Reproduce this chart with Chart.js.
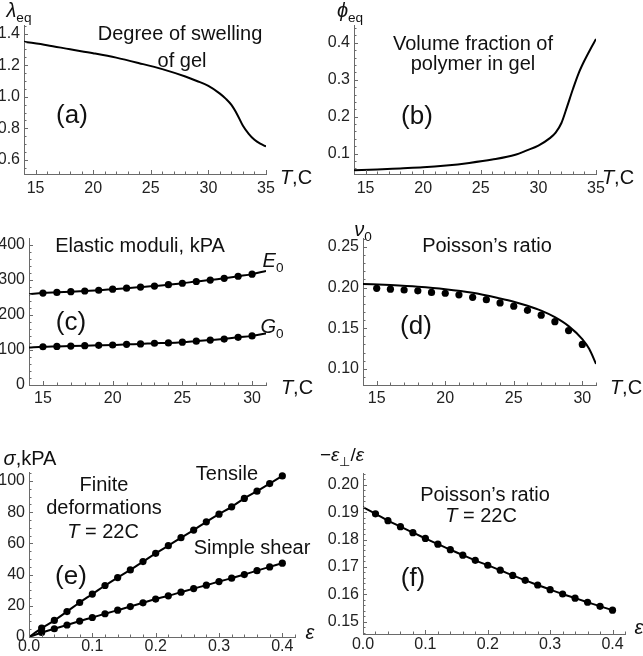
<!DOCTYPE html>
<html>
<head>
<meta charset="utf-8">
<script src="https://cdn.jsdelivr.net/npm/chart.js@4.4.1/dist/chart.umd.min.js"></script>
<style>
  body { margin: 0; background: #fff; }
  #fig { position: relative; width: 643px; height: 656px; overflow: hidden;
         font-family: "Liberation Sans", Arial, sans-serif; color: #111; }
  .panel { position: absolute; }
  .lbl { position: absolute; transform: translate(-50%, -50%); white-space: nowrap; line-height: 1; }
  .lbl sub { font-size: 0.68em; vertical-align: -0.35em; font-style: normal; }
</style>
</head>
<body>
<div id="fig"></div>
<script>
// ---- (a), (b): swelling and polymer fraction vs temperature ----
const tempA = [14, 16, 18, 20, 22, 24, 26, 28, 29, 30, 31, 31.5, 32, 32.5, 33, 33.5, 34, 34.5, 35];
const lambdaEq = [1.349, 1.327, 1.301, 1.276, 1.248, 1.213, 1.175, 1.128, 1.100, 1.069, 1.020, 0.988, 0.948, 0.888, 0.816, 0.765, 0.727, 0.702, 0.685];
const phiEq = [0.055, 0.057, 0.060, 0.063, 0.068, 0.075, 0.084, 0.097, 0.109, 0.122, 0.142, 0.157, 0.183, 0.228, 0.275, 0.318, 0.352, 0.382, 0.410];

// ---- (c): elastic moduli ----
const tempFit = [14, 15, 16, 17, 18, 19, 20, 21, 22, 23, 24, 25, 26, 27, 28, 29, 30, 31];
const youngFit = [259, 262, 264, 266, 268, 270, 273, 276, 279, 282, 286, 290, 295, 299, 304, 310, 316, 325];
const shearFit = [107, 109, 110, 111, 112, 113, 114, 116, 117, 119, 120, 122, 125, 128, 131, 136, 140, 147];
const tempExp = [15, 16, 17, 18, 19, 20, 21, 22, 23, 24, 25, 26, 27, 28, 29, 30];
const youngExp = [262, 264, 266, 268, 270, 273, 276, 279, 282, 286, 290, 295, 299, 304, 310, 316];
const shearExp = [109, 110, 111, 112, 113, 114, 116, 117, 119, 120, 122, 125, 128, 131, 136, 140];

// ---- (d): Poisson's ratio vs temperature ----
const tempNu = [14, 16, 18, 20, 22, 24, 25, 26, 27, 28, 29, 30, 30.5, 31];
const nuFit = [0.2045, 0.203, 0.201, 0.198, 0.1935, 0.1865, 0.1825, 0.1775, 0.1715, 0.1635, 0.1525, 0.1365, 0.1245, 0.106];
const nuExp = [0.199, 0.198, 0.197, 0.196, 0.194, 0.193, 0.191, 0.188, 0.185, 0.181, 0.177, 0.172, 0.166, 0.158, 0.147, 0.130];

// ---- (e), (f): finite deformations at T = 22C ----
const strain = [0.02, 0.04, 0.06, 0.08, 0.10, 0.12, 0.14, 0.16, 0.18, 0.20, 0.22, 0.24, 0.26, 0.28, 0.30, 0.32, 0.34, 0.36, 0.38, 0.40];
const tensileStress = [5.7, 10.6, 16.3, 22.1, 27.5, 33.0, 38.1, 43.0, 48.3, 53.6, 58.5, 63.6, 68.5, 73.8, 78.7, 83.4, 88.8, 93.4, 98.3, 103.2];
const shearStress = [2.9, 5.3, 7.7, 10.2, 12.5, 14.9, 17.2, 19.5, 21.9, 24.3, 26.4, 28.7, 31.0, 33.2, 35.5, 37.7, 40.0, 42.5, 44.9, 47.3];
const poissonFinite = [0.1894, 0.1869, 0.1847, 0.1825, 0.1804, 0.1783, 0.1763, 0.1743, 0.1724, 0.1706, 0.1688, 0.1669, 0.1651, 0.1634, 0.1617, 0.1601, 0.1586, 0.1571, 0.1556, 0.1542];
const poissonAtZero = 0.1918;

// ---- tick labels ----
const ticksTemp35 = [15, 20, 25, 30, 35];
const ticksTemp30 = [15, 20, 25, 30];
const ticksLambda = [0.6, 0.8, 1.0, 1.2, 1.4];
const ticksPhi = [0.1, 0.2, 0.3, 0.4];
const ticksModuli = [0, 100, 200, 300, 400];
const ticksNu = [0.10, 0.15, 0.20, 0.25];
const ticksStrain = [0, 0.1, 0.2, 0.3, 0.4];
const ticksStress = [0, 20, 40, 60, 80, 100];
const ticksPoisson = [0.15, 0.16, 0.17, 0.18, 0.19, 0.20];

const AXIS = '#6a6a6a';
const fig = document.getElementById('fig');

function pts(xs, ys) {
  return xs.map((x, i) => ({ x: x, y: ys[i] }));
}
function curve(xs, ys) {
  return { data: pts(xs, ys), showLine: true, borderColor: '#000', borderWidth: 2,
           pointRadius: 0, cubicInterpolationMode: 'monotone' };
}
function dots(xs, ys) {
  return { data: pts(xs, ys), showLine: false, pointRadius: 3.6,
           pointBackgroundColor: '#000', pointBorderWidth: 0 };
}

// Mathematica-style inward ticks, major and minor
const inwardTicks = {
  id: 'inwardTicks',
  afterDatasetsDraw(chart, args, opts) {
    const { ctx, chartArea: a, scales: { x, y } } = chart;
    ctx.save();
    ctx.strokeStyle = AXIS;
    ctx.lineWidth = 1;
    ctx.beginPath();
    [[x, opts.x], [y, opts.y]].forEach(([s, step]) => {
      const majors = s.ticks.map(t => t.value);
      for (let n = Math.ceil(s.min / step - 1e-6); n * step <= s.max + 1e-9; n++) {
        const v = n * step;
        const len = majors.some(m => Math.abs(m - v) < step / 10) ? 4 : 2.5;
        const p = Math.round(s.getPixelForValue(v)) + 0.5;
        if (s.isHorizontal()) { ctx.moveTo(p, a.bottom); ctx.lineTo(p, a.bottom - len); }
        else { ctx.moveTo(a.left, p); ctx.lineTo(a.left + len, p); }
      }
    });
    ctx.stroke();
    ctx.restore();
  }
};

function axis(min, max, ticks, dec, pad, fit) {
  return {
    type: 'linear', min: min, max: max,
    afterBuildTicks: s => { s.ticks = ticks.map(v => ({ value: v })); },
    afterFit: fit,
    grid: { display: false, drawTicks: false },
    border: { display: true, color: AXIS, width: 1 },
    ticks: { autoSkip: false, maxRotation: 0, padding: pad, color: '#222',
             font: { family: 'Liberation Sans', size: 16 },
             callback: v => v.toFixed(dec) }
  };
}

function makePanel(p) {
  const div = document.createElement('div');
  div.className = 'panel';
  div.style.left = p.left + 'px';
  div.style.top = p.top + 'px';
  const cv = document.createElement('canvas');
  cv.width = p.w;
  cv.height = p.h;
  div.appendChild(cv);
  fig.appendChild(div);
  new Chart(cv, {
    type: 'scatter',
    data: { datasets: p.datasets },
    options: {
      responsive: false,
      animation: false,
      events: [],
      layout: { padding: { left: 0, bottom: 0, top: p.axT - p.top, right: p.left + p.w - p.axR } },
      plugins: { legend: { display: false }, tooltip: { enabled: false },
                 inwardTicks: { x: p.xMinor, y: p.yMinor } },
      scales: {
        x: axis(p.xMin, p.xMax, p.xTicks, p.xDec, p.xPad, s => { s.height = p.top + p.h - p.axB; }),
        y: axis(p.yMin, p.yMax, p.yTicks, p.yDec, 4, s => { s.width = p.axL - p.left; })
      }
    },
    plugins: [inwardTicks]
  });
}

// (a)
makePanel({ left: 0, top: 0, w: 321, h: 205, axL: 24, axR: 266, axT: 25, axB: 174,
  xMin: 14, xMax: 35, xTicks: ticksTemp35, xDec: 0, xMinor: 1, xPad: 5,
  yMin: 0.51, yMax: 1.455, yTicks: ticksLambda, yDec: 1, yMinor: 0.05,
  datasets: [curve(tempA, lambdaEq)] });
// (b)
makePanel({ left: 321, top: 0, w: 322, h: 205, axL: 354, axR: 596, axT: 25, axB: 174,
  xMin: 14, xMax: 35, xTicks: ticksTemp35, xDec: 0, xMinor: 1, xPad: 5,
  yMin: 0.045, yMax: 0.448, yTicks: ticksPhi, yDec: 1, yMinor: 0.02,
  datasets: [curve(tempA, phiEq)] });
// (c)
makePanel({ left: 0, top: 205, w: 321, h: 215, axL: 29, axR: 266, axT: 238, axB: 385,
  xMin: 14, xMax: 31, xTicks: ticksTemp30, xDec: 0, xMinor: 1, xPad: 4,
  yMin: 0, yMax: 419, yTicks: ticksModuli, yDec: 0, yMinor: 20,
  datasets: [curve(tempFit, youngFit), curve(tempFit, shearFit), dots(tempExp, youngExp), dots(tempExp, shearExp)] });
// (d)
makePanel({ left: 321, top: 205, w: 322, h: 215, axL: 363, axR: 596, axT: 238, axB: 385,
  xMin: 14, xMax: 31, xTicks: ticksTemp30, xDec: 0, xMinor: 1, xPad: 4,
  yMin: 0.08, yMax: 0.261, yTicks: ticksNu, yDec: 2, yMinor: 0.01,
  datasets: [curve(tempNu, nuFit), dots(tempExp, nuExp)] });
// (e)
makePanel({ left: 0, top: 420, w: 321, h: 236, axL: 29, axR: 295, axT: 472, axB: 637,
  xMin: 0, xMax: 0.42, xTicks: ticksStrain, xDec: 1, xMinor: 0.02, xPad: 0,
  yMin: 0, yMax: 105.7, yTicks: ticksStress, yDec: 0, yMinor: 5,
  datasets: [curve([0, ...strain], [0, ...tensileStress]), curve([0, ...strain], [0, ...shearStress]),
             dots(strain, tensileStress), dots(strain, shearStress)] });
// (f)
makePanel({ left: 321, top: 420, w: 322, h: 236, axL: 363, axR: 625, axT: 473, axB: 634,
  xMin: 0, xMax: 0.42, xTicks: ticksStrain, xDec: 1, xMinor: 0.02, xPad: 1,
  yMin: 0.1455, yMax: 0.2043, yTicks: ticksPoisson, yDec: 2, yMinor: 0.002,
  datasets: [curve([0, ...strain], [poissonAtZero, ...poissonFinite]), dots(strain, poissonFinite)] });

// text annotations: [html, centre x, centre y, font size]
const notes = [
  ['<i>λ</i><sub>eq</sub>', 19, 12, 20],
  ['Degree of swelling', 180, 33, 20],
  ['of gel', 182, 60, 20],
  ['(a)', 72, 114, 26],
  ['<i>T</i>,C', 296, 177, 20],
  ['<i>ϕ</i><sub>eq</sub>', 350, 12, 20],
  ['Volume fraction of', 473, 43, 20],
  ['polymer in gel', 473, 63, 20],
  ['(b)', 417, 115, 26],
  ['<i>T</i>,C', 618, 177, 20],
  ['Elastic moduli, kPA', 140, 245, 20],
  ['<i>E</i><sub>0</sub>', 273, 262, 20],
  ['<i>G</i><sub>0</sub>', 272, 328, 20],
  ['(c)', 71, 321, 26],
  ['<i>T</i>,C', 297, 387, 20],
  ['<i>ν</i><sub>0</sub>', 363, 231, 20],
  ['Poisson’s ratio', 487, 245, 20],
  ['(d)', 416, 325, 26],
  ['<i>T</i>,C', 626, 387, 20],
  ['<i>σ</i>,kPA', 30, 458, 20],
  ['Tensile', 227, 473, 20],
  ['Finite', 104, 484, 20],
  ['deformations', 104, 507, 20],
  ['<i>T</i> = 22C', 103, 531, 20],
  ['Simple shear', 252, 547, 20],
  ['(e)', 71, 575, 26],
  ['<i>ε</i>', 310, 632, 20],
  ['−<i>ε</i><sub>⊥</sub>/<i>ε</i>', 342, 457, 19],
  ['Poisson’s ratio', 485, 494, 20],
  ['<i>T</i> = 22C', 481, 515, 20],
  ['(f)', 413, 577, 26],
  ['<i>ε</i>', 639, 627, 20]
];
notes.forEach(([html, x, y, size]) => {
  const el = document.createElement('div');
  el.className = 'lbl';
  el.innerHTML = html;
  el.style.left = x + 'px';
  el.style.top = y + 'px';
  el.style.fontSize = size + 'px';
  fig.appendChild(el);
});
</script>
</body>
</html>
